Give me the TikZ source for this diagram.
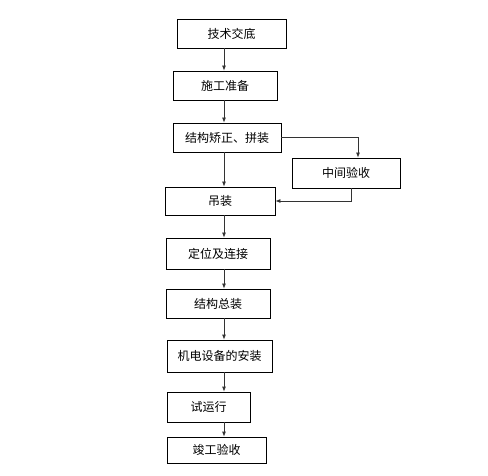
\documentclass[tikz,border=0pt]{standalone}
\usepackage{fontspec}
\setmainfont{Noto Sans CJK SC}
\usetikzlibrary{arrows.meta}

\begin{document}
\begin{tikzpicture}
    [
        x=1pt, y=-1pt,
        box/.style={draw, line width=0.8pt, inner sep=0pt, font=\fontsize{12}{14}\selectfont,},
        edge/.style={-{Latex[length=5pt,width=4pt]}, line width=0.8pt, black!80,},
    ]

    \useasboundingbox (0,0) rectangle (488,476);

    % main flow
    \node (jsjd) at (231.5,33.5) [box, minimum width=109, minimum height=29] {技术交底};
    \node (sgzb) at (225,85.5)   [box, minimum width=104, minimum height=29] {施工准备};
    \node (jgjz) at (227,137.5)  [box, minimum width=108, minimum height=29] {结构矫正、拼装};
    \node (zjys) at (346,173)    [box, minimum width=108, minimum height=30] {中间验收};
    \node (dz)   at (220,201)    [box, minimum width=110, minimum height=28] {吊装};
    \node (dwlj) at (218,253.5)  [box, minimum width=104, minimum height=31] {定位及连接};
    \node (jgzz) at (218,303.5)  [box, minimum width=104, minimum height=29] {结构总装};
    \node (jdsb) at (219.5,356)  [box, minimum width=105, minimum height=32] {机电设备的安装};
    \node (syx)  at (208.5,407)  [box, minimum width=83,  minimum height=30] {试运行};
    \node (jgys) at (216.5,450)  [box, minimum width=99,  minimum height=26] {竣工验收};

    \coordinate (col) at (224,0);

    \draw [edge] (jsjd.south -| col) -- (sgzb.north -| col);
    \draw [edge] (sgzb.south -| col) -- (jgjz.north -| col);
    \draw [edge] (jgjz.south -| col) -- (dz.north -| col);
    \draw [edge] (dz.south -| col) -- (dwlj.north -| col);
    \draw [edge] (dwlj.south -| col) -- (jgzz.north -| col);
    \draw [edge] (jgzz.south -| col) -- (jdsb.north -| col);
    \draw [edge] (jdsb.south -| col) -- (syx.north -| col);
    \draw [edge] (syx.south -| col) -- (jgys.north -| col);

    % side check
    \draw [edge] (jgjz.east) -| ([xshift=12pt]zjys.north);
    \draw [edge] ([xshift=5pt]zjys.south) |- (dz.east);

\end{tikzpicture}
\end{document}
